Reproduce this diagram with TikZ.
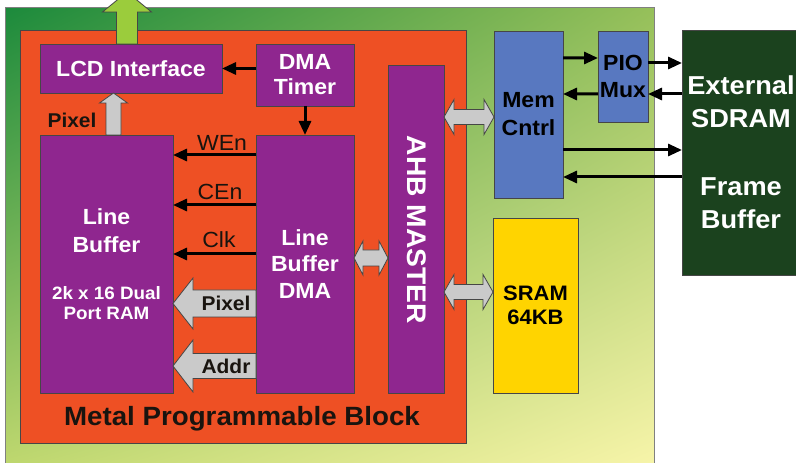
\documentclass[tikz,border=0pt]{standalone}
\usepackage{fontspec}
\setmainfont[FakeStretch=1.05]{Liberation Sans}
\usetikzlibrary{arrows.meta,calc,shadings}
\definecolor{orangeblk}{RGB}{238,80,36}
\definecolor{purp}{RGB}{143,38,143}
\definecolor{memblue}{RGB}{88,120,192}
\definecolor{sramyel}{RGB}{255,212,0}
\definecolor{extgreen}{RGB}{27,66,30}
\definecolor{fatgrey}{RGB}{202,202,202}
\definecolor{limegr}{RGB}{155,204,60}
\definecolor{edge}{RGB}{70,70,70}
\definecolor{lblk}{RGB}{25,20,15}
\definecolor{gUL}{RGB}{28,138,60}
\definecolor{gUR}{RGB}{150,192,90}
\definecolor{gLL}{RGB}{196,218,112}
\definecolor{gLR}{RGB}{250,246,172}
\newcommand\fsz[2]{\fontsize{#1}{#2}\selectfont}
% horizontal fat arrow: tail, tip, shaft half, head half, signed head-base offset, style
\newcommand\fathoriz[6]{%
  \draw[#6] let \p1=(#1), \p2=(#2) in
    (\x1,\y1+#3) -- (\x2#5,\y1+#3) -- (\x2#5,\y1+#4) -- (\x2,\y1) --
    (\x2#5,\y1-#4) -- (\x2#5,\y1-#3) -- (\x1,\y1-#3) -- cycle;}
% double fat arrow: left end, right end, shaft half, head half, head length, style
\newcommand\fatdouble[6]{%
  \draw[#6] let \p1=(#1), \p2=(#2) in
    (\x1,\y1) -- (\x1+#5,\y1+#4) -- (\x1+#5,\y1+#3) -- (\x2-#5,\y1+#3) --
    (\x2-#5,\y1+#4) -- (\x2,\y1) -- (\x2-#5,\y1-#4) -- (\x2-#5,\y1-#3) --
    (\x1+#5,\y1-#3) -- (\x1+#5,\y1-#4) -- cycle;}
% upward fat arrow: tail (bottom), tip (top), shaft half, head half, head length, style
\newcommand\fatup[6]{%
  \draw[#6] let \p1=(#1), \p2=(#2) in
    (\x1-#3,\y1) -- (\x1-#3,\y2-#5) -- (\x1-#4,\y2-#5) -- (\x1,\y2) --
    (\x1+#4,\y2-#5) -- (\x1+#3,\y2-#5) -- (\x1+#3,\y1) -- cycle;}

\begin{document}
\begin{tikzpicture}[x=1bp,y=-1bp,
  box/.style={draw=edge, line width=0.8bp, inner sep=0pt, outer sep=0pt,
    align=center, font=\bfseries\fsz{22}{28}},
  pbox/.style={box, fill=purp, text=white},
  bbox/.style={box, fill=memblue, text=black},
  arr/.style={draw=black, line width=3bp, -{Triangle[length=14bp,width=12bp]}},
  fat/.style={draw=edge, line width=0.8bp, fill=fatgrey},
  lbl/.style={inner sep=0pt, font=\bfseries\fsz{20}{24}, text=lblk},
  sig/.style={inner sep=0pt, font=\fsz{22}{24}, text=lblk},
  wtxt/.style={inner sep=0pt, align=center, text=white, font=\bfseries\fsz{22}{28}}
]
\useasboundingbox (0,0) rectangle (796,463);
\clip (0,0) rectangle (796,463);
\fill[white] (0,0) rectangle (796,463);

% outer gradient block
\shade[upper left=gUL, upper right=gUR, lower left=gLL, lower right=gLR] (5,8) rectangle (654,480);
\draw[draw=gray, line width=1bp] (5,8) rectangle (654,480);

% metal programmable block
\node[draw=edge, line width=0.8bp, fill=orangeblk, minimum width=446bp, minimum height=413bp,
  inner sep=0pt] (mpb) at (243,236.5) {};
\node[lbl, font=\bfseries\fsz{26.5}{30}] (mpblabel) at (242,419) {Metal Programmable Block};

% boxes
\node[pbox, minimum width=182bp, minimum height=49bp] (lcd) at (131,68.5) {LCD Interface};
\node[pbox, minimum width=98bp, minimum height=62bp, font=\bfseries\fsz{22}{25}] (dmat) at (305,75) {DMA\\Timer};
\node[pbox, minimum width=133bp, minimum height=258bp] (lb) at (106.5,264) {};
\node[wtxt] (lbname) at (106.5,231) {Line\\Buffer};
\node[wtxt, font=\bfseries\fsz{18}{20}] (lbspec) at (106.5,303) {2k x 16 Dual\\Port RAM};
\node[pbox, minimum width=98bp, minimum height=258bp, font=\bfseries\fsz{22}{27}] (lbdma) at (305,264) {Line\\Buffer\\DMA};
\node[pbox, minimum width=56bp, minimum height=328bp] (ahb) at (416,229) {};
\node[wtxt, rotate=-90, font=\bfseries\fsz{27}{30}] (ahbtxt) at (417,230) {AHB MASTER};
\node[bbox, minimum width=69bp, minimum height=167bp] (mem) at (528.5,114.5) {Mem\\Cntrl};
\node[bbox, minimum width=50bp, minimum height=91bp] (pio) at (623,76.5) {PIO\\Mux};
\node[box, fill=sramyel, text=black, minimum width=85bp, minimum height=175bp, font=\bfseries\fsz{21}{24}] (sram) at (535.5,305.5) {SRAM\\64KB};
\node[box, fill=extgreen, minimum width=118bp, minimum height=245bp] (ext) at (741,152.5) {};
\node[wtxt, font=\bfseries\fsz{26}{33}] (exttxt) at (741,101.5) {External\\SDRAM};
\node[wtxt, font=\bfseries\fsz{26}{33}] (fbtxt) at (741,203.5) {Frame\\Buffer};

% labels
\node[lbl] (pixlbl) at (72,120) {Pixel};
\node[sig] (wen) at (222,143) {WEn};
\node[sig] (cen) at (220,192) {CEn};
\node[sig] (clk) at (219,240) {Clk};

% green output arrow
\coordinate (lcdout) at (127,-8);
\fatup{[xshift=-4bp]lcd.north}{lcdout}{10.5bp}{24.5bp}{20bp}{draw=edge, line width=0.8bp, fill=limegr}
% pixel arrow up into LCD
\fatup{[xshift=7bp]lb.north}{lcd.south}{7.5bp}{14bp}{10bp}{fat}

% black arrows
\draw[arr] (dmat.west |- lcd.east) -- (lcd.east);
\draw[arr] (dmat.south) -- (lbdma.north);
\draw[arr] ([yshift=-20bp]lbdma.north west) -- ([yshift=-20bp]lb.north east);
\draw[arr] ([yshift=-70bp]lbdma.north west) -- ([yshift=-70bp]lb.north east);
\draw[arr] ([yshift=-119bp]lbdma.north west) -- ([yshift=-119bp]lb.north east);

% big grey arrows
\fathoriz{[yshift=-168.5bp]lbdma.north west}{lb.east}{13.5bp}{25.5bp}{+20bp}{fat}
\fathoriz{[yshift=-231bp]lbdma.north west}{lb.east}{12.5bp}{26bp}{+20bp}{fat}
\node[lbl] (pixin) at (226,303) {Pixel};
\node[lbl] (addr) at (226,366) {Addr};

% double arrows
\fatdouble{[yshift=6bp]lbdma.east}{ahb.west}{8bp}{17bp}{9bp}{fat}
\fatdouble{[yshift=-52bp]ahb.north east}{mem.west}{7.5bp}{17.5bp}{10bp}{fat}
\fatdouble{[yshift=-227bp]ahb.north east}{sram.west}{7.5bp}{17.5bp}{10bp}{fat}

% memory side arrows
\coordinate (pioA) at ([yshift=-32bp]pio.north east);
\coordinate (pioB) at ([yshift=-63bp]pio.north east);
\coordinate (memA) at ([yshift=-119bp]mem.north east);
\coordinate (memB) at ([yshift=-146bp]mem.north east);
\draw[arr] ([yshift=-27bp]mem.north east) -- ([yshift=-27bp]pio.north west);
\draw[arr] ([yshift=-63bp]pio.north west) -- ([yshift=-63bp]mem.north east);
\draw[arr] (pioA) -- (ext.west |- pioA);
\draw[arr] (ext.west |- pioB) -- (pioB);
\draw[arr] (memA) -- (ext.west |- memA);
\draw[arr] (ext.west |- memB) -- (memB);
\end{tikzpicture}
\end{document}
